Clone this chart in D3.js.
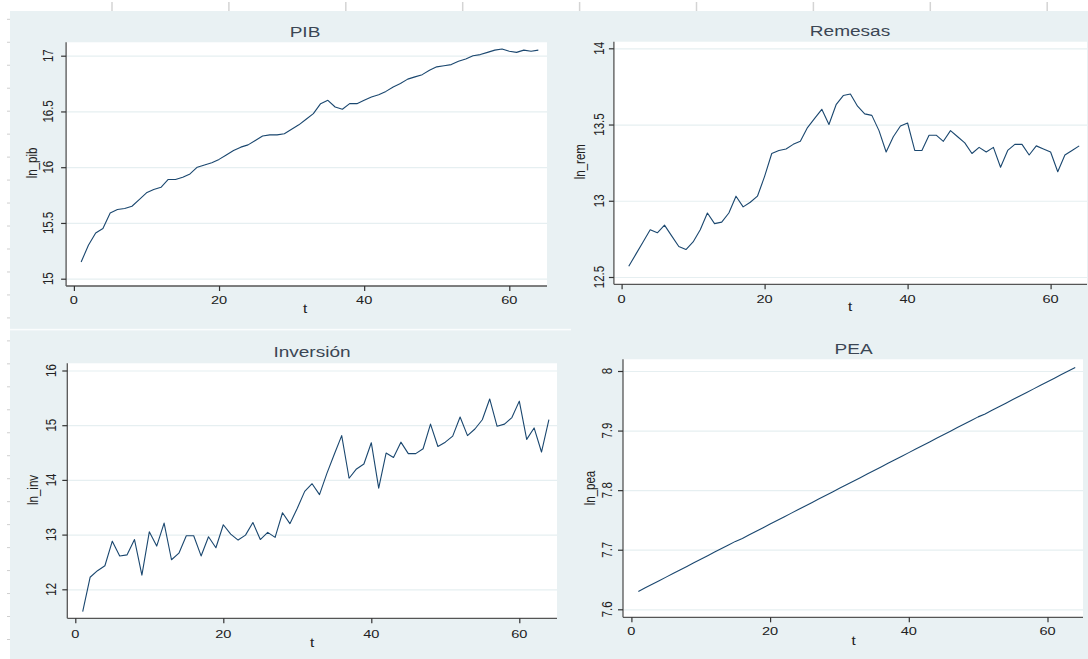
<!DOCTYPE html>
<html><head><meta charset="utf-8">
<script src="https://cdn.jsdelivr.net/npm/d3@7"></script>
<style>body{margin:0;background:#fff;}svg{display:block;}</style>
</head><body>
<svg id="c" width="1088" height="659"></svg>
<script>
// ---------- data ----------
const t = d3.range(1, 65);
const xTicks = [0, 20, 40, 60];

const lnPib = [15.15,15.30,15.41,15.45,15.59,15.62,15.63,15.65,15.71,15.77,
  15.80,15.82,15.89,15.89,15.91,15.94,16.00,16.02,16.04,16.07,
  16.11,16.15,16.18,16.20,16.24,16.28,16.29,16.29,16.30,16.34,
  16.38,16.43,16.48,16.57,16.60,16.54,16.52,16.57,16.57,16.60,
  16.63,16.65,16.68,16.72,16.75,16.79,16.81,16.83,16.87,16.90,
  16.91,16.92,16.95,16.97,17.00,17.01,17.03,17.05,17.06,17.04,
  17.03,17.05,17.04,17.05];
const pibTicks = [15, 15.5, 16, 16.5, 17];

const lnRem = [12.57,12.65,12.73,12.81,12.79,12.84,12.77,12.70,12.68,12.73,
  12.81,12.92,12.85,12.86,12.92,13.03,12.96,12.99,13.03,13.16,
  13.31,13.33,13.34,13.37,13.39,13.48,13.54,13.60,13.50,13.63,
  13.69,13.70,13.62,13.57,13.56,13.46,13.32,13.42,13.49,13.51,
  13.33,13.33,13.43,13.43,13.39,13.46,13.42,13.38,13.31,13.35,
  13.32,13.35,13.22,13.33,13.37,13.37,13.30,13.36,13.34,13.32,
  13.19,13.30,13.33,13.36];
const remTicks = [12.5, 13, 13.5, 14];

const lnInv = [11.59,12.22,12.34,12.43,12.88,12.61,12.63,12.91,12.26,13.05,
  12.79,13.21,12.54,12.66,12.98,12.98,12.61,12.96,12.76,13.18,
  13.01,12.90,12.99,13.22,12.91,13.04,12.95,13.40,13.20,13.48,
  13.79,13.93,13.73,14.12,14.47,14.81,14.03,14.20,14.29,14.68,
  13.85,14.49,14.41,14.69,14.48,14.48,14.57,15.02,14.61,14.69,
  14.80,15.15,14.81,14.93,15.10,15.48,14.98,15.02,15.14,15.44,
  14.74,14.95,14.51,15.10];
const invTicks = [12, 13, 14, 15, 16];

const lnPea = [7.630,7.636,7.642,7.648,7.654,7.660,7.666,7.672,7.678,7.684,
  7.690,7.696,7.702,7.708,7.714,7.719,7.725,7.731,7.737,7.743,
  7.749,7.755,7.761,7.767,7.773,7.779,7.785,7.791,7.797,7.803,
  7.809,7.815,7.821,7.827,7.833,7.839,7.845,7.851,7.857,7.863,
  7.869,7.875,7.881,7.887,7.893,7.899,7.905,7.911,7.917,7.923,
  7.928,7.934,7.940,7.946,7.952,7.958,7.964,7.970,7.976,7.982,
  7.988,7.994,8.000,8.006];
const peaTicks = [7.6, 7.7, 7.8, 7.9, 8];

const titles = ["PIB", "Remesas", "Inversión", "PEA"];
const yTitles = ["ln_pib", "ln_rem", "ln_inv", "ln_pea"];

// ---------- layout ----------
const SX = 1.27; // horizontal stretch of the screenshot's text
const FONT = "'Liberation Sans', Arial, Helvetica, sans-serif";
const BG = "#e9f1f3";
const LINE = "#1a476f";

const panels = [
  {vals: lnPib, ticks: pibTicks, fmt: d3.format("~g"),
   L: 66.1, T: 42.3, R: 547, B: 286, x0: 73.9, x60: 509.3, yLo: 278.7, yHi: 55.7,
   titleX: 305, titleY: 37.3, xlabY: 304, tY: 313, ylabX: 53.3, ytX: 37, ytY: 163},
  {vals: lnRem, ticks: remTicks, fmt: d3.format("~g"),
   L: 613.9, T: 41.7, R: 1087, B: 284.3, x0: 621.6, x60: 1050.6, yLo: 277, yHi: 48.3,
   titleX: 850, titleY: 36, xlabY: 302.5, tY: 310.7, ylabX: 604, ytX: 585, ytY: 161.7},
  {vals: lnInv, ticks: invTicks, fmt: d3.format("~g"),
   L: 67.3, T: 363.3, R: 557, B: 618.3, x0: 75.3, x60: 519.3, yLo: 589.3, yHi: 370.5,
   titleX: 312, titleY: 357.3, xlabY: 637.5, tY: 646.5, ylabX: 56.4, ytX: 37.5, ytY: 490},
  {vals: lnPea, ticks: peaTicks, fmt: d3.format("~g"),
   L: 623, T: 359.3, R: 1083, B: 617.3, x0: 631.4, x60: 1047.5, yLo: 609.3, yHi: 371,
   titleX: 853.6, titleY: 354.3, xlabY: 635, tY: 645, ylabX: 612.2, ytX: 595, ytY: 488}
];

const svg = d3.select("#c");

// page background artefacts
svg.append("rect").attr("x", 0).attr("y", 0).attr("width", 1088).attr("height", 659).attr("fill", "#fff");
svg.append("rect").attr("x", 10).attr("y", 11).attr("width", 1078).attr("height", 648).attr("fill", BG);
svg.append("rect").attr("x", 10).attr("y", 328.8).attr("width", 561).attr("height", 1.6).attr("fill", "#fbfdfd");
svg.selectAll("line.vcol").data(d3.range(0, 9)).join("line")
  .attr("x1", k => 112 + 116.9 * k).attr("x2", k => 112 + 116.9 * k)
  .attr("y1", 2).attr("y2", 11).attr("stroke", "#d4d4d4").attr("stroke-width", 1.5);
svg.selectAll("line.hrow").data(d3.range(0, 28)).join("line")
  .attr("x1", 7).attr("x2", 10)
  .attr("y1", k => 19.3 + 22.97 * k).attr("y2", k => 19.3 + 22.97 * k)
  .attr("stroke", "#cfcfcf").attr("stroke-width", 1);

function stretchT(x, y, rot) {
  return `translate(${x},${y}) scale(${SX},1)` + (rot ? ` rotate(${rot})` : "");
}

panels.forEach((p, i) => {
  const g = svg.append("g");
  const x = d3.scaleLinear().domain([0, 60]).range([p.x0, p.x60]);
  const y = d3.scaleLinear().domain([p.ticks[0], p.ticks[p.ticks.length - 1]]).range([p.yLo, p.yHi]);

  // plot region
  g.append("rect").attr("x", p.L).attr("y", p.T).attr("width", p.R - p.L).attr("height", p.B - p.T).attr("fill", "#fff");

  // gridlines
  g.append("g").attr("transform", `translate(${p.L},0)`)
    .call(d3.axisLeft(y).tickValues(p.ticks).tickSize(-(p.R - p.L)).tickFormat(""))
    .call(a => a.select(".domain").remove())
    .call(a => a.selectAll("line").attr("stroke", "#e6eff1").attr("stroke-width", 1.2));

  // y axis line + ticks
  g.append("g").attr("transform", `translate(${p.L},0)`)
    .call(d3.axisLeft(y).tickValues(p.ticks).tickSize(5).tickSizeOuter(0).tickFormat(""))
    .call(a => a.select(".domain").attr("d", `M0,${p.T}V${p.B}`).attr("stroke", "#555").attr("stroke-width", 1.3))
    .call(a => a.selectAll(".tick line").attr("stroke", "#333").attr("stroke-width", 1.2));

  // x axis line + ticks
  g.append("g").attr("transform", `translate(0,${p.B})`)
    .call(d3.axisBottom(x).tickValues(xTicks).tickSize(5).tickSizeOuter(0).tickFormat(""))
    .call(a => a.select(".domain").attr("d", `M${p.L},0H${p.R}`).attr("stroke", "#555").attr("stroke-width", 1.3))
    .call(a => a.selectAll(".tick line").attr("stroke", "#333").attr("stroke-width", 1.2));

  // x tick labels
  g.selectAll("text.xl").data(xTicks).join("text")
    .attr("transform", d => stretchT(x(d), p.xlabY))
    .attr("text-anchor", "middle").attr("font-family", FONT).attr("font-size", 11.5)
    .attr("fill", "#222").text(d => d);

  // y tick labels (rotated)
  g.selectAll("text.yl").data(p.ticks).join("text")
    .attr("transform", d => stretchT(p.ylabX, y(d), -90))
    .attr("text-anchor", "middle").attr("font-family", FONT).attr("font-size", 11.5)
    .attr("fill", "#222").text(d => p.fmt(d));

  // line
  g.append("path").datum(p.vals)
    .attr("fill", "none").attr("stroke", LINE).attr("stroke-width", 1.1)
    .attr("stroke-linejoin", "round")
    .attr("d", d3.line().x((d, j) => x(t[j])).y(d => y(d)));

  // titles
  g.append("text").attr("transform", stretchT(p.titleX, p.titleY))
    .attr("text-anchor", "middle").attr("font-family", FONT).attr("font-size", 15)
    .attr("fill", "#3b4654").text(titles[i]);
  g.append("text").attr("transform", stretchT(p.titleX, p.tY))
    .attr("text-anchor", "middle").attr("font-family", FONT).attr("font-size", 12)
    .attr("fill", "#222").text("t");
  g.append("text").attr("transform", stretchT(p.ytX, p.ytY, -90))
    .attr("text-anchor", "middle").attr("font-family", FONT).attr("font-size", 11.5)
    .attr("fill", "#222").text(yTitles[i]);
});
</script>
</body></html>
